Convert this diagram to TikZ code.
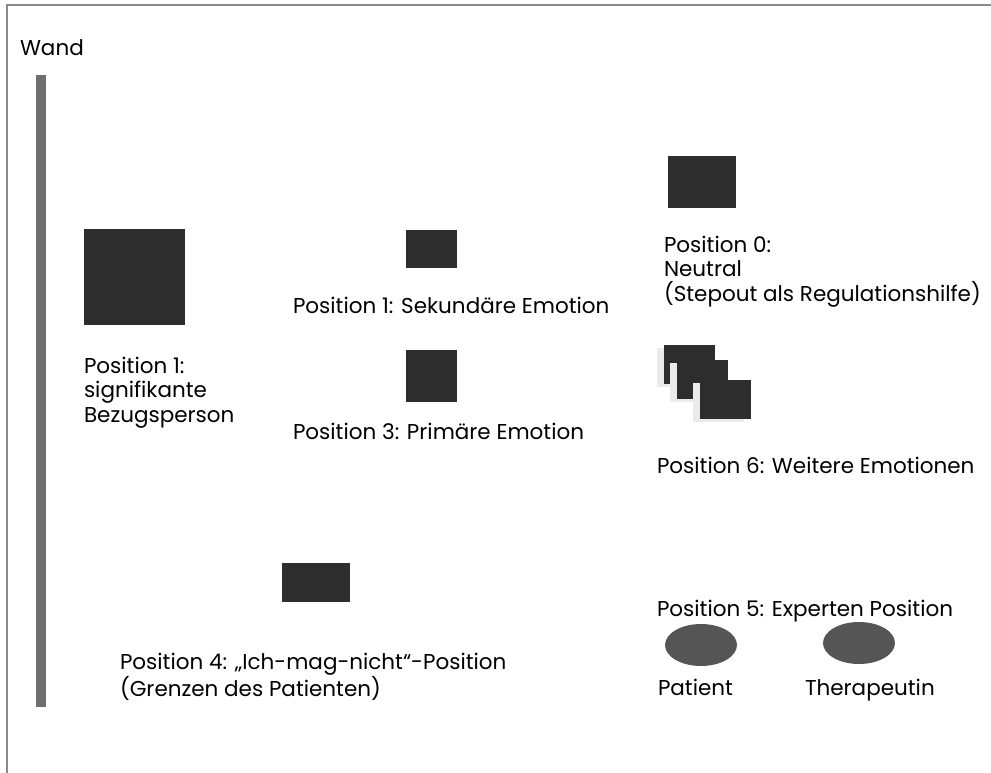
\documentclass[tikz,border=0pt]{standalone}
\usepackage{fontspec}
\setmainfont{Poppins}
\usetikzlibrary{shapes.geometric}
\definecolor{boxdark}{HTML}{2D2D2D}
\definecolor{walgray}{HTML}{6E6E6E}
\definecolor{framegray}{HTML}{8A8A8A}
\definecolor{ellgray}{HTML}{555555}
\definecolor{shadowgray}{HTML}{EBEBEB}
\tikzset{
  every node/.style={inner sep=0pt, outer sep=0pt},
  lbl/.style={anchor=base west, align=left, font=\fontsize{21.5}{24.5}\selectfont, text=black},
  darkbox/.style={fill=boxdark, draw=none},
  shadowbox/.style={fill=shadowgray, draw=none},
  person/.style={ellipse, fill=ellgray, draw=none, minimum width=72pt, minimum height=42pt}
}
\begin{document}
\begin{tikzpicture}[x=1pt,y=-1pt]
\useasboundingbox (0,0) rectangle (991,773);
\fill[white] (0,0) rectangle (991,773);
% frame
\draw[framegray, line width=2pt] (7,780) -- (7,5) -- (1000,5);
% wall
\fill[walgray] (36,75) rectangle (46,707);
\node[lbl] (wand) at (20,56) {Wand};
% position 1 person
\fill[darkbox] (84,229) rectangle (185,325);
\node[lbl] (p1) at (84,422) {Position 1:\\signifikante\\Bezugsperson};
% sekundaere
\fill[darkbox] (406,230) rectangle (457,268);
\node[lbl] (sek) at (293,313) {Position 1: Sekundäre Emotion};
% primaere
\fill[darkbox] (406,350) rectangle (457,402);
\node[lbl] (prim) at (293,439) {Position 3: Primäre Emotion};
% position 0
\fill[darkbox] (668,156) rectangle (736,208);
\node[lbl] (p0) at (664,301) {Position 0:\\Neutral\\(Stepout als Regulationshilfe)};
% position 6 stack
\fill[shadowbox] (657,348) rectangle (708,387);
\fill[darkbox] (664,345) rectangle (715,384);
\fill[shadowbox] (670,363) rectangle (721,402);
\fill[darkbox] (677,360) rectangle (728,399);
\fill[shadowbox] (693,383) rectangle (744,422);
\fill[darkbox] (700,380) rectangle (751,419);
\node[lbl] (p6) at (657,473) {Position 6: Weitere Emotionen};
% position 4
\fill[darkbox] (282,563) rectangle (350,602);
\node[lbl] (p4) at (120,696) {Position 4: „Ich-mag-nicht“-Position\\(Grenzen des Patienten)};
% position 5
\node[lbl] (p5) at (657,616) {Position 5: Experten Position};
\node[person] (patient) at (701,645) {};
\node[person] (thera) at (859,643) {};
\node[lbl] (patlbl) at (658,695) {Patient};
\node[lbl] (thelbl) at (805,695) {Therapeutin};
\end{tikzpicture}
\end{document}
